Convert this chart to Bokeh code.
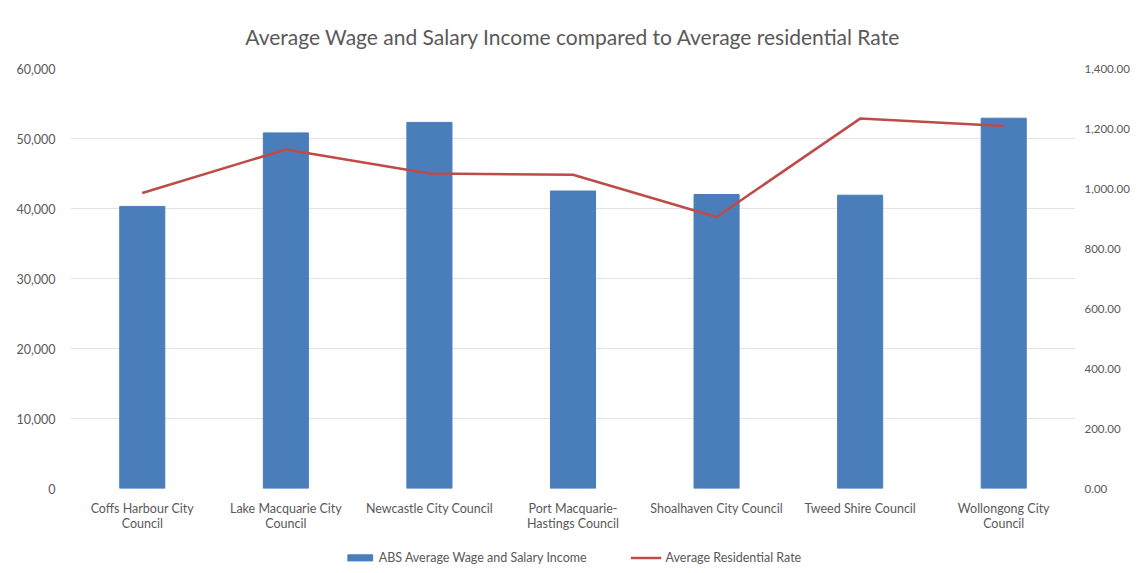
from bokeh.plotting import figure
from bokeh.layouts import column
from bokeh.models import (FactorRange, Range1d, LinearAxis, NumeralTickFormatter,
                          Legend, LegendItem, FixedTicker)
from bokeh.embed import file_html
from bokeh.resources import INLINE

councils = ["Coffs Harbour City\nCouncil", "Lake Macquarie City\nCouncil",
            "Newcastle City Council", "Port Macquarie-\nHastings Council",
            "Shoalhaven City Council", "Tweed Shire Council", "Wollongong City\nCouncil"]
wage_income = [40300, 50800, 52300, 42500, 42000, 41900, 52900]
residential_rate = [985, 1130, 1050, 1046, 905, 1233, 1208]
left_ticks = [0, 10000, 20000, 30000, 40000, 50000, 60000]
right_ticks = [0, 200, 400, 600, 800, 1000, 1200, 1400]
series_names = ["ABS Average Wage and Salary Income", "Average Residential Rate"]

FONT = "Lato"
GREY = "#595959"
FS = "12.5px"
BAR_COLOR = "#4A7EBB"
LINE_COLOR = "#BE4B48"

p = figure(x_range=FactorRange(*councils), y_range=Range1d(0, 60000),
           frame_width=1005, frame_height=420, output_backend="svg", toolbar_location=None,
           min_border_left=70, min_border_right=60, min_border_top=68, min_border_bottom=48,
           title="Average Wage and Salary Income compared to Average residential Rate")
p.extra_y_ranges = {"rate": Range1d(0, 1400)}

p.title.align = "center"
p.title.text_font = FONT
p.title.text_font_size = "21px"
p.title.text_font_style = "normal"
p.title.text_color = GREY
p.title.standoff = 40

p.vbar(x=councils, top=wage_income, width=0.314, color=BAR_COLOR)
p.line(x=councils, y=residential_rate, y_range_name="rate",
       line_color=LINE_COLOR, line_width=2.5)

p.outline_line_color = None
p.xgrid.grid_line_color = None
p.ygrid.grid_line_color = "#E3E3E3"
p.ygrid.grid_line_width = 1

for ax in [p.xaxis[0], p.yaxis[0]]:
    ax.axis_line_color = None
    ax.major_tick_line_color = None
    ax.minor_tick_line_color = None
    ax.major_label_text_font = FONT
    ax.major_label_text_font_size = FS
    ax.major_label_text_color = GREY

p.yaxis[0].ticker = FixedTicker(ticks=left_ticks)
p.yaxis[0].formatter = NumeralTickFormatter(format="0,0")
p.yaxis[0].major_label_standoff = 9
p.xaxis[0].major_label_standoff = 6
p.xaxis[0].major_label_text_line_height = 1.0

raxis = LinearAxis(y_range_name="rate", ticker=FixedTicker(ticks=right_ticks),
                   formatter=NumeralTickFormatter(format="0,0.00"))
raxis.axis_line_color = None
raxis.major_tick_line_color = None
raxis.minor_tick_line_color = None
raxis.major_label_text_font = FONT
raxis.major_label_text_font_size = "11.5px"
raxis.major_label_text_color = GREY
raxis.major_label_standoff = 3
p.add_layout(raxis, "right")

# legend strip below the chart (hidden proxy renderers supply the legend glyphs)
lp = figure(frame_width=1005, frame_height=30, output_backend="svg", toolbar_location=None,
            x_range=Range1d(0, 1), y_range=Range1d(0, 1),
            min_border_left=70, min_border_right=60, min_border_top=6, min_border_bottom=0,
            x_axis_type=None, y_axis_type=None)
lp.outline_line_color = None
lp.grid.visible = False
lb = lp.vbar(x=[0], top=[0], width=0.314, color=BAR_COLOR, visible=False)
ll = lp.line(x=[0, 0], y=[0, 0], line_color=LINE_COLOR, line_width=2.5, visible=False)
legend = Legend(items=[LegendItem(label=series_names[0], renderers=[lb]),
                       LegendItem(label=series_names[1], renderers=[ll])],
                orientation="horizontal", location="center",
                label_text_font=FONT, label_text_font_size=FS, label_text_color=GREY,
                glyph_width=31, glyph_height=8, spacing=44, label_standoff=4,
                label_height=14, inactive_fill_alpha=0,
                border_line_color=None, background_fill_alpha=0, margin=0, padding=0)
lp.add_layout(legend, "center")

layout = column(p, lp, spacing=0)
open("out.html", "w").write(file_html(layout, INLINE))
